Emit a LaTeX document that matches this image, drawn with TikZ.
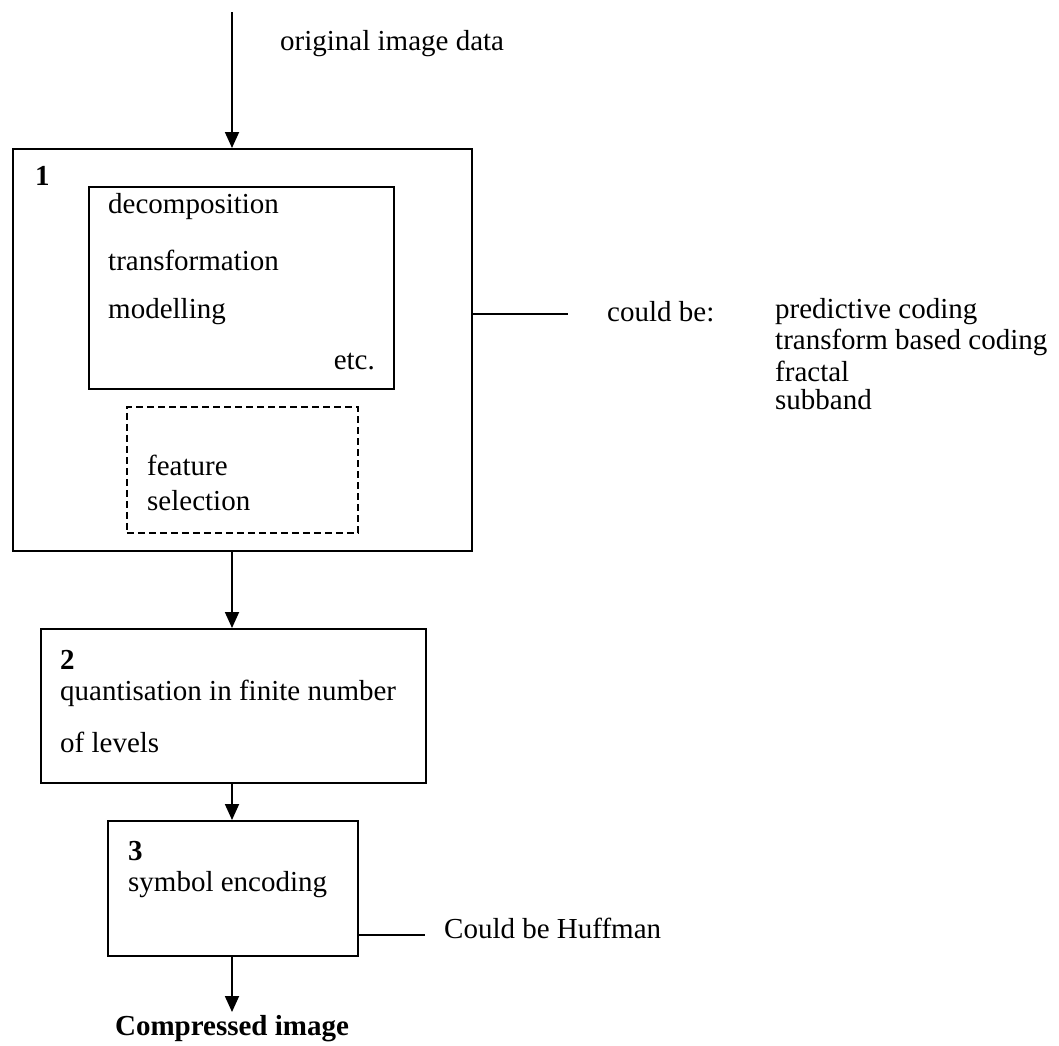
\documentclass[tikz,border=0pt]{standalone}
\usepackage{fontspec}
\setmainfont{Liberation Serif}
\usetikzlibrary{arrows.meta}
\begin{document}
\begin{tikzpicture}[x=1pt,y=-1pt,
  box/.style={draw,line width=1.8pt,anchor=north west,inner sep=0pt},
  dbox/.style={draw,line width=1.5pt,dash pattern=on 7pt off 4pt,anchor=north west,inner sep=0pt},
  txt/.style={anchor=west,inner sep=0pt,font=\fontsize{29}{34}\selectfont},
  btxt/.style={anchor=west,inner sep=0pt,font=\fontsize{29}{34}\selectfont\bfseries},
  arr/.style={line width=1.8pt,-{Triangle[width=14pt,length=16pt]}},
  ln/.style={line width=1.8pt}]
\useasboundingbox (0,0) rectangle (1059,1045);
% boxes
\node[box,minimum width=459pt,minimum height=402pt] (b1) at (12,148) {};
\node[box,minimum width=305pt,minimum height=202pt] (inner) at (88,186) {};
\node[dbox,minimum width=231pt,minimum height=126pt] (fs) at (126,406) {};
\node[box,minimum width=385pt,minimum height=154pt] (b2) at (40,628) {};
\node[box,minimum width=250pt,minimum height=135pt] (b3) at (107,820) {};
% texts
\node[txt] (orig) at (280,44) {original image data};
\node[btxt] (n1) at (35,176) {1};
\node[txt] (dec) at (108,207) {decomposition};
\node[txt] (tra) at (108,260) {transformation};
\node[txt] (mod) at (108,312) {modelling};
\node[txt,anchor=east] (etc) at (375,362) {etc.};
\node[txt] (fea) at (147,465) {feature};
\node[txt] (sel) at (147,501) {selection};
\node[btxt] (n2) at (60,660) {2};
\node[txt] (q1) at (60,693) {quantisation in finite number};
\node[txt] (q2) at (60,742) {of levels};
\node[btxt] (n3) at (128,851) {3};
\node[txt] (sym) at (128,885) {symbol encoding};
\node[txt] (huff) at (444,928) {Could be Huffman};
\node[btxt,anchor=center] (comp) at (232,1029) {Compressed image};
\node[txt] (cb) at (607,312) {could be:};
\node[txt] (p1) at (775,312) {predictive coding};
\node[txt] (p2) at (775,342) {transform based coding};
\node[txt] (p3) at (775,371) {fractal};
\node[txt] (p4) at (775,400) {subband};
% coordinates
\coordinate (top) at (232,12);
\coordinate (a1) at (232,550);
\coordinate (a2) at (232,782);
\coordinate (a3) at (232,955);
\coordinate (end) at (232,1012);
\coordinate (l1) at (568,314);
\coordinate (l3) at (425,935);
% connectors
\draw[arr] (top) -- (top |- b1.north);
\draw[arr] (a1) -- (a1 |- b2.north);
\draw[arr] (a2) -- (a2 |- b3.north);
\draw[arr] (a3) -- (end);
\draw[ln] (l1 -| b1.east) -- (l1);
\draw[ln] (l3 -| b3.east) -- (l3);
\end{tikzpicture}
\end{document}
